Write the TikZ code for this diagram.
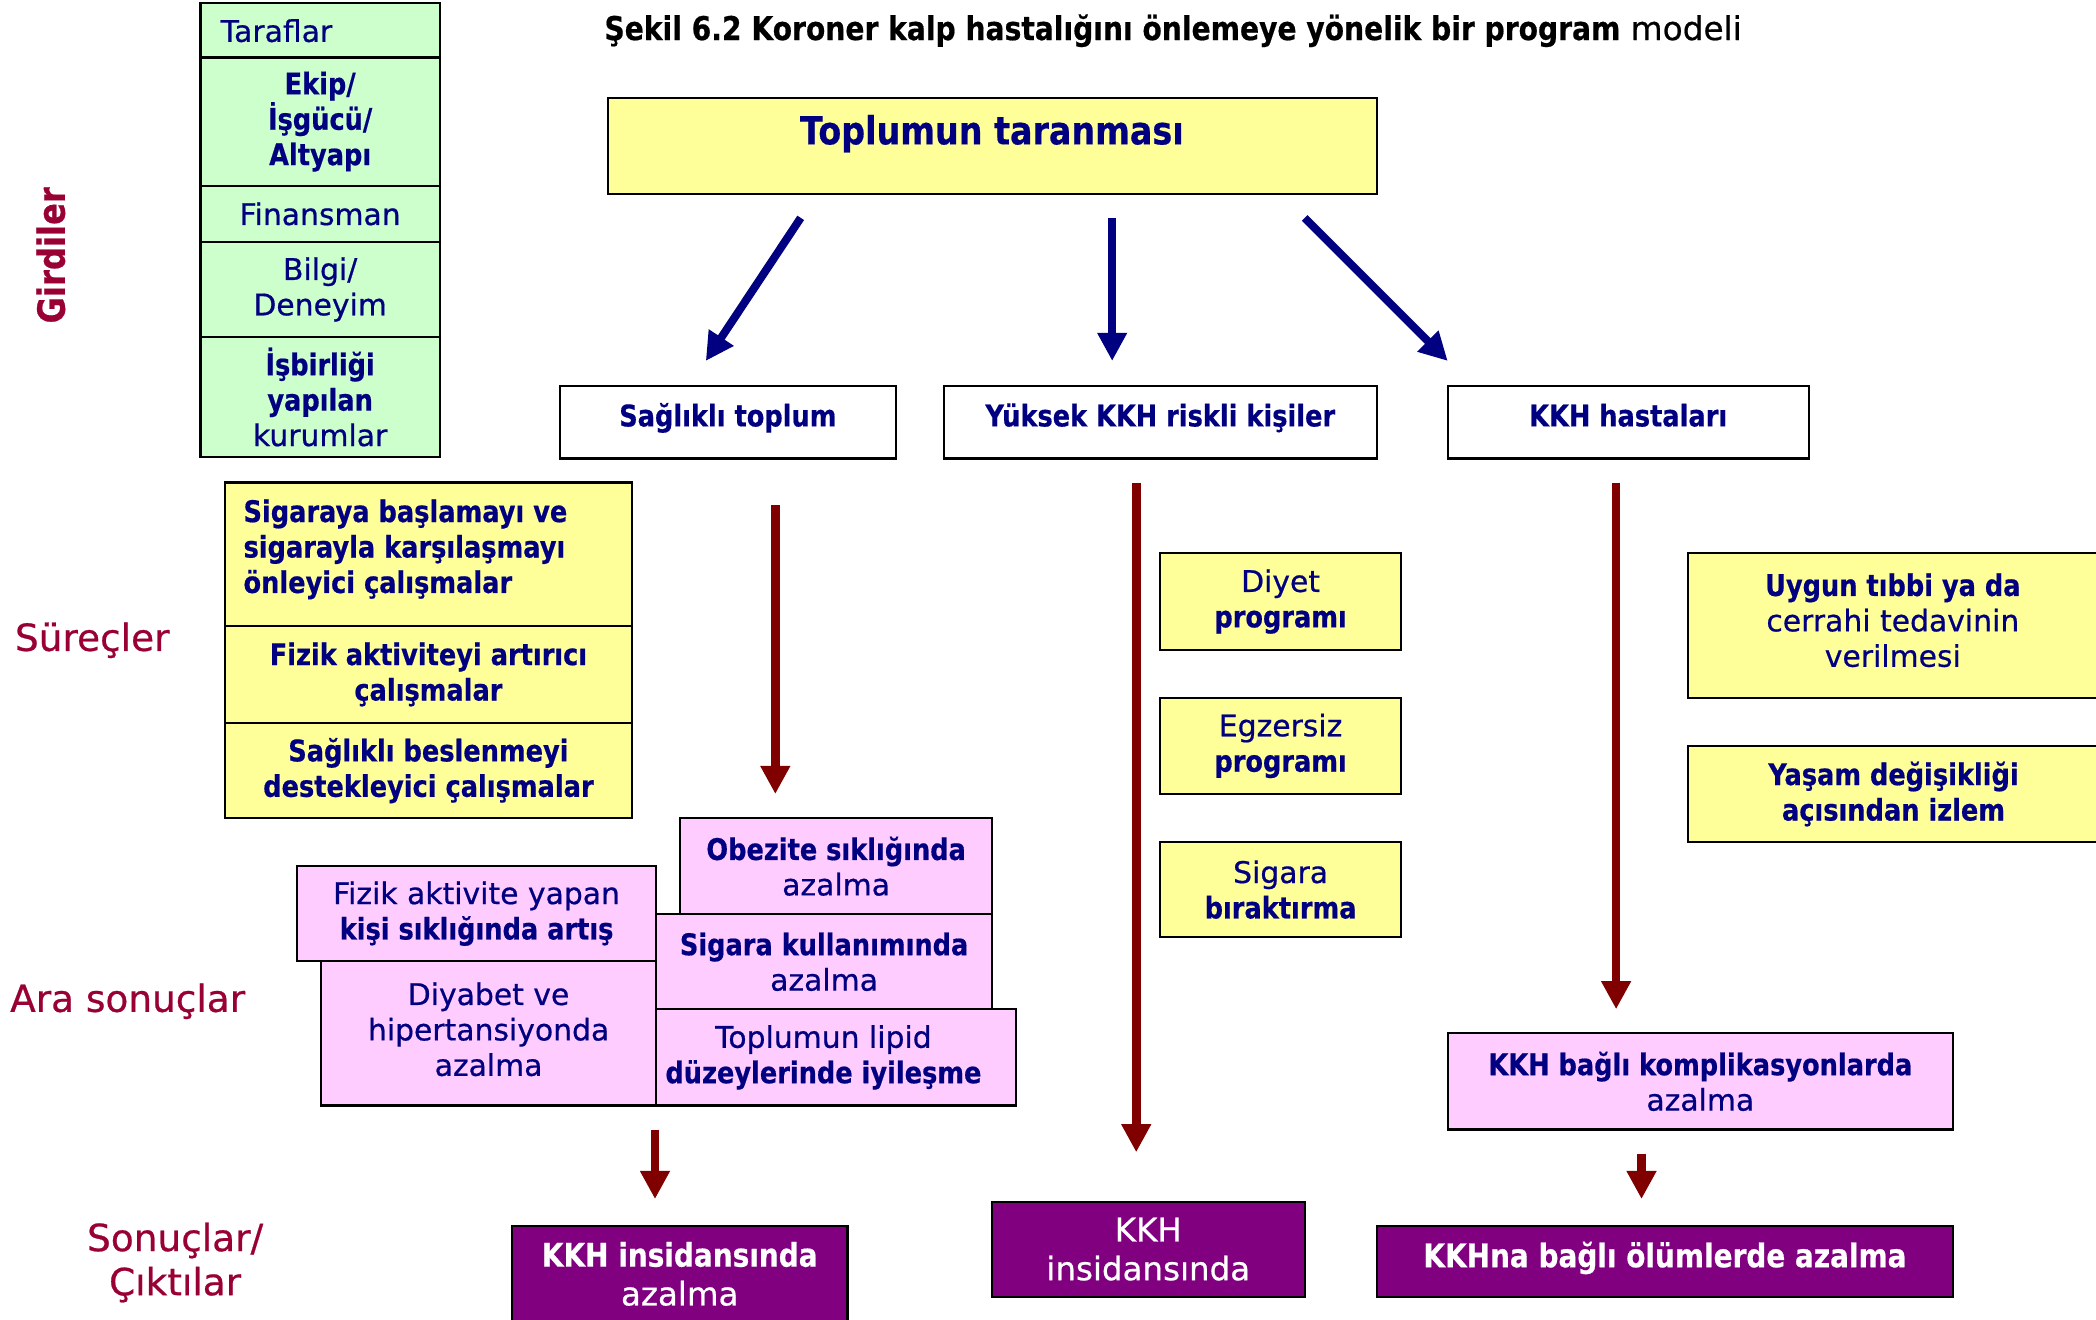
\documentclass[tikz,border=0pt]{standalone}
\usepackage{fontspec}
\setmainfont[BoldFont={DejaVu Sans Bold},BoldFeatures={FakeStretch=0.86,FakeBold=0.5},UprightFeatures={FakeBold=0.6}]{DejaVu Sans}
\usetikzlibrary{arrows.meta}

\definecolor{navytext}{HTML}{000080}
\definecolor{darkred}{HTML}{800000}
\definecolor{sidered}{HTML}{990033}
\definecolor{greenfill}{HTML}{CCFFCC}
\definecolor{yellowfill}{HTML}{FFFF99}
\definecolor{pinkfill}{HTML}{FFCCFF}
\definecolor{purplefill}{HTML}{800080}

\newcommand\boxfont{\fontsize{22.3}{26.5}\selectfont}
\newcommand\outfont{\fontsize{24.3}{29}\selectfont}
\newcommand\sidefont{\fontsize{28}{33}\selectfont}

\begin{document}
\begin{tikzpicture}[x=1pt,y=-1pt,
  box/.style={draw=black,line width=1.6pt,inner sep=0pt,align=center,text=navytext,font=\boxfont},
  greenbox/.style={box,fill=greenfill,minimum width=179pt},
  yellowbox/.style={box,fill=yellowfill},
  pinkbox/.style={box,fill=pinkfill},
  whitebox/.style={box,fill=white,minimum height=54pt,text height=15pt,text depth=9pt},
  outbox/.style={box,fill=purplefill,text=white,font=\outfont},
  sidelabel/.style={text=sidered,font=\sidefont,inner sep=0pt,align=center},
  bluearrow/.style={draw=navytext,line width=6pt,-{Triangle[length=21pt,width=21pt]}},
  redarrow/.style={draw=darkred,line width=6.5pt,-{Triangle[length=21pt,width=21pt]}},
  plaintext/.style={inner sep=0pt,text=navytext,font=\boxfont}]
\useasboundingbox (0,0) rectangle (1568,987);
\fill[white] (0,0) rectangle (1568,987);

% stage labels on the left
\node[sidelabel,rotate=90,font=\fontsize{28}{33}\selectfont\bfseries] (girdiler) at (38,191) {Girdiler};
\node[sidelabel] (surecler) at (69,479) {Süreçler};
\node[sidelabel] (arasonuc) at (95.5,749) {Ara sonuçlar};
\node[sidelabel] (sonuclar) at (131,944.5) {Sonuçlar/\\Çıktılar};

% title
\node[inner sep=0pt,anchor=west,font=\fontsize{24.5}{28}\selectfont] (title) at (452,23)
  {\textbf{Şekil 6.2 Koroner kalp hastalığını önlemeye yönelik bir program} modeli};

% inputs column
\node[greenbox,minimum height=41pt] (taraflar) at (239.5,22.5) {};
\node[plaintext,anchor=west] (taraflarT) at (165,23) {Taraflar};
\node[greenbox,minimum height=96pt] (ekip) at (239.5,91) {\textbf{Ekip/}\\\textbf{İşgücü/}\\\textbf{Altyapı}};
\node[greenbox,minimum height=42pt] (finans) at (239.5,160) {Finansman};
\node[greenbox,minimum height=71pt] (bilgi) at (239.5,216.5) {Bilgi/\\Deneyim};
\node[greenbox,minimum height=90pt] (isbirligi) at (239.5,297) {\textbf{İşbirliği}\\\textbf{yapılan}\\kurumlar};

% screening
\node[yellowbox,minimum width=575pt,minimum height=72pt] (tarama) at (742.5,109) {};
\node[plaintext,font=\fontsize{29}{34}\selectfont\bfseries] (taramaT) at (742,100) {Toplumun taranması};

% target groups
\node[whitebox,minimum width=251pt] (saglikli) at (544.5,316) {\textbf{Sağlıklı toplum}};
\node[whitebox,minimum width=324pt] (riskli) at (868,316) {\textbf{Yüksek KKH riskli kişiler}};
\node[whitebox,minimum width=270pt] (hastalar) at (1218,316) {\textbf{KKH hastaları}};

\coordinate (b1s) at (599,163);  \coordinate (b1e) at (528,270);
\coordinate (b2s) at (832,163);  \coordinate (b2e) at (832,270);
\coordinate (b3s) at (976,163);  \coordinate (b3e) at (1083,270);
\draw[bluearrow] (b1s) -- (b1e);
\draw[bluearrow] (b2s) -- (b2e);
\draw[bluearrow] (b3s) -- (b3e);

% processes: healthy population
\node[yellowbox,minimum width=305pt,minimum height=107pt] (sigaraya) at (320.5,414.5) {};
\node[plaintext,anchor=west,align=left] (sigarayaT) at (182,411)
  {\textbf{Sigaraya başlamayı ve}\\\textbf{sigarayla karşılaşmayı}\\\textbf{önleyici çalışmalar}};
\node[yellowbox,minimum width=305pt,minimum height=73pt] (fizikakt) at (320.5,504.5) {\textbf{Fizik aktiviteyi artırıcı}\\\textbf{çalışmalar}};
\node[yellowbox,minimum width=305pt,minimum height=71pt] (beslenme) at (320.5,576.5) {\textbf{Sağlıklı beslenmeyi}\\\textbf{destekleyici çalışmalar}};

% processes: high risk
\node[yellowbox,minimum width=180pt,minimum height=72pt] (diyet) at (958,450) {Diyet\\\textbf{programı}};
\node[yellowbox,minimum width=180pt,minimum height=72pt] (egzersiz) at (958,558) {Egzersiz\\\textbf{programı}};
\node[yellowbox,minimum width=180pt,minimum height=71pt] (sigarabirak) at (958,665.5) {Sigara\\\textbf{bıraktırma}};

% processes: patients
\node[yellowbox,minimum width=307pt,minimum height=108pt] (tedavi) at (1416.5,468) {};
\node[plaintext,align=center] (tedaviT) at (1416,464) {\textbf{Uygun tıbbi ya da}\\cerrahi tedavinin\\verilmesi};
\node[yellowbox,minimum width=307pt,minimum height=72pt] (yasam) at (1416.5,594) {\textbf{Yaşam değişikliği}\\\textbf{açısından izlem}};

% intermediate outcomes
\node[pinkbox,minimum width=233pt,minimum height=72pt] (obezite) at (625.5,648) {\textbf{Obezite sıklığında}\\azalma};
\node[pinkbox,minimum width=251pt,minimum height=71pt] (sigarakul) at (616.5,719.5) {\textbf{Sigara kullanımında}\\azalma};
\node[pinkbox,minimum width=269pt,minimum height=71pt] (fizikyapan) at (356.5,683.5) {Fizik aktivite yapan\\\textbf{kişi sıklığında artış}};
\node[pinkbox,minimum width=288pt,minimum height=72pt] (lipid) at (616,791) {Toplumun lipid\\\textbf{düzeylerinde iyileşme}};
\node[pinkbox,minimum width=251pt,minimum height=108pt] (diyabet) at (365.5,773) {};
\node[plaintext,align=center] (diyabetT) at (365.5,770) {Diyabet ve\\hipertansiyonda\\azalma};
\node[pinkbox,minimum width=378pt,minimum height=72pt] (komplik) at (1272,809) {\textbf{KKH bağlı komplikasyonlarda}\\azalma};

% outcomes
\node[outbox,minimum width=251pt,minimum height=72pt] (insidansAz) at (508.5,953) {\textbf{KKH insidansında}\\azalma};
\node[outbox,minimum width=234pt,minimum height=71pt] (insidans) at (859,934.5) {KKH\\insidansında};
\node[outbox,minimum width=431pt,minimum height=53pt,text height=17pt,text depth=8pt] (olum) at (1245.5,943.5) {\textbf{KKHna bağlı ölümlerde azalma}};

% vertical flow arrows
\coordinate (r1s) at (580,378);   \coordinate (r1e) at (580,594);
\coordinate (r2s) at (850,361);   \coordinate (r2e) at (850,862);
\coordinate (r3s) at (1209,361);  \coordinate (r3e) at (1209,755);
\coordinate (r4s) at (490,845);   \coordinate (r4e) at (490,897);
\coordinate (r5s) at (1228,863);  \coordinate (r5e) at (1228,897);
\draw[redarrow] (r1s) -- (r1e);
\draw[redarrow] (r2s) -- (r2e);
\draw[redarrow] (r3s) -- (r3e);
\draw[redarrow] (r4s) -- (r4e);
\draw[redarrow] (r5s) -- (r5e);
\end{tikzpicture}
\end{document}
